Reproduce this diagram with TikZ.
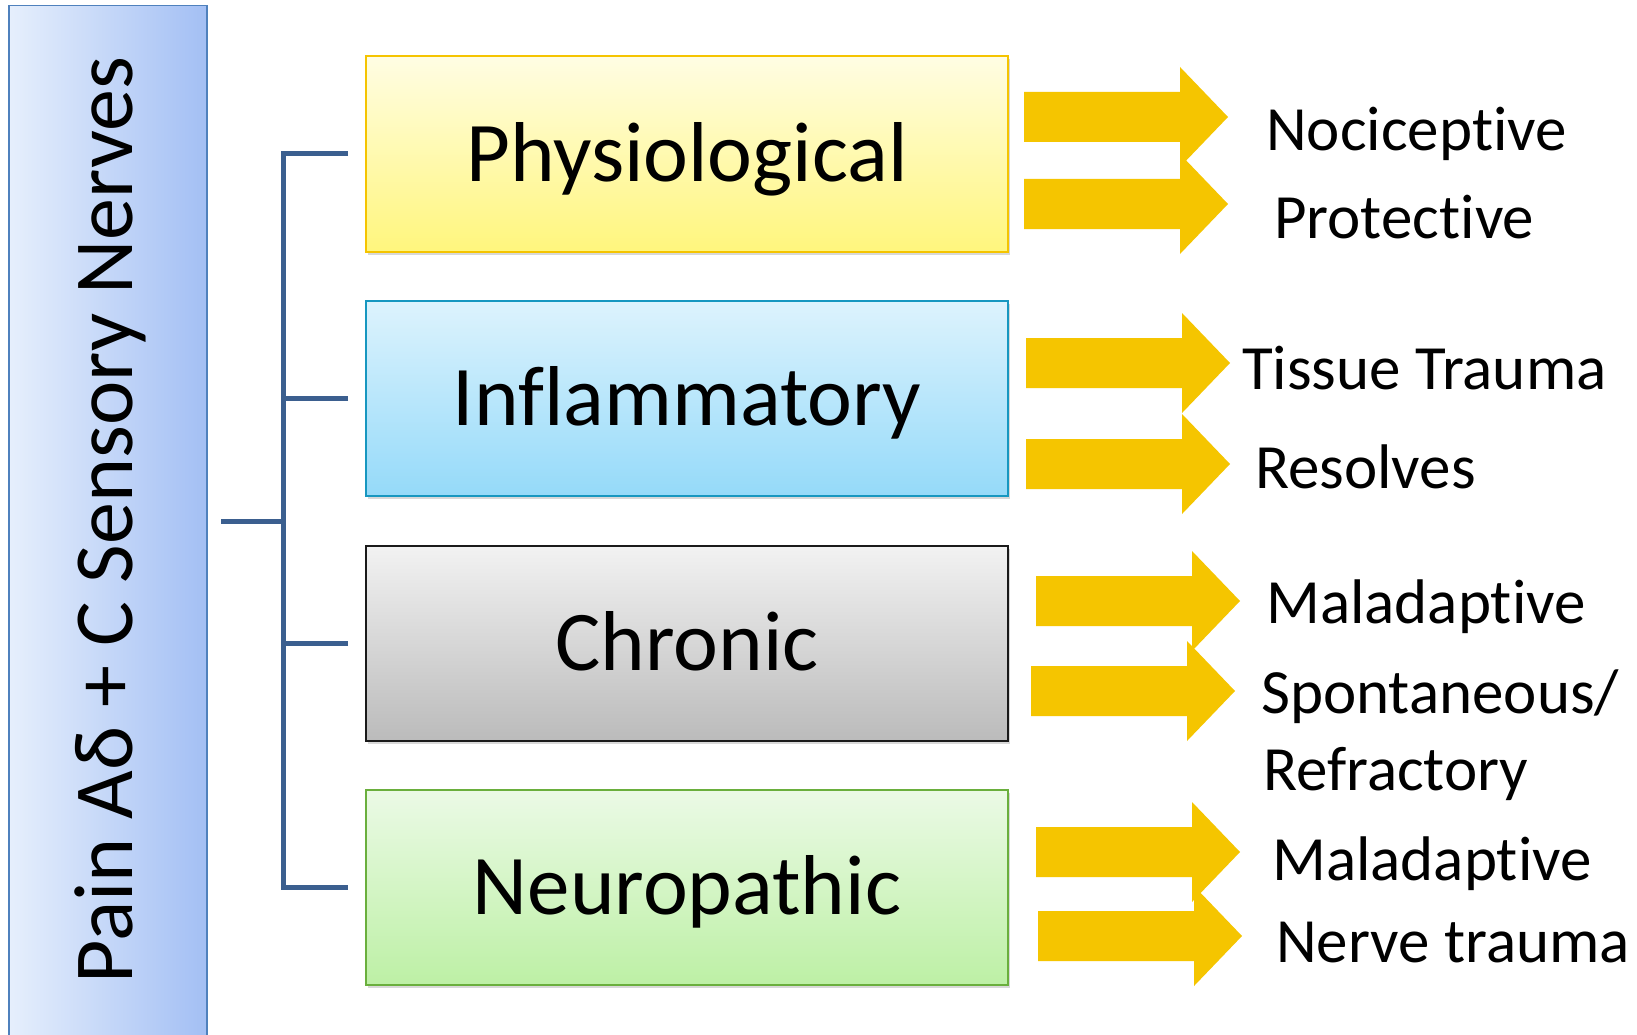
\documentclass[tikz,border=0pt]{standalone}
\usepackage{fontspec}
\setmainfont{Carlito}[RawFeature={-liga;-clig;-calt;-dlig;-rlig}]
\usetikzlibrary{shadows}
\definecolor{arrowgold}{HTML}{F5C500}
\definecolor{bracketblue}{HTML}{3B5F8F}
\definecolor{barborder}{HTML}{4F81BD}
\begin{document}
\begin{tikzpicture}[x=1pt,y=-1pt,
  catbox/.style={rectangle, minimum width=642pt, minimum height=195pt, line width=2pt,
    font=\fontsize{85}{100}\selectfont, text height=55pt, text depth=0pt,
    drop shadow={opacity=0.3, shadow xshift=2pt, shadow yshift=-3pt}},
  lbl/.style={anchor=base west, font=\fontsize{63}{75}\selectfont, inner sep=0pt},
  bracket/.style={draw=bracketblue, line width=5pt},
  blockarrow/.pic={\fill[arrowgold] (0,-25) -- (156,-25) -- (156,-50) -- (204,0) -- (156,50) -- (156,25) -- (0,25) -- cycle;}
]
\useasboundingbox (0,0) rectangle (1637,1035);
\fill[white] (0,0) rectangle (1637,1035);

% left bar
\node[rectangle, anchor=north west, minimum width=198pt, minimum height=1060pt,
  draw=barborder, line width=1.5pt, left color={rgb,255:red,230;green,239;blue,252},
  right color={rgb,255:red,163;green,191;blue,244}] (bar) at (8,5) {};
\node[anchor=base, rotate=90, font=\fontsize{84}{100}\selectfont, inner sep=0pt] (bartext) at (132,520) {Pain Aδ + C Sensory Nerves};

% category boxes
\node[catbox, draw={rgb,255:red,245;green,196;blue,0}, top color={rgb,255:red,255;green,253;blue,227}, bottom color={rgb,255:red,255;green,246;blue,125}] (phys) at (687,154) {Physiological};
\node[catbox, draw={rgb,255:red,23;green,151;blue,192}, top color={rgb,255:red,221;green,243;blue,253}, bottom color={rgb,255:red,149;green,218;blue,249}] (infl) at (687,398) {Inflammatory};
\node[catbox, draw={rgb,255:red,26;green,26;blue,26}, top color={rgb,255:red,242;green,242;blue,242}, bottom color={rgb,255:red,187;green,187;blue,187}] (chron) at (687,643) {Chronic};
\node[catbox, draw={rgb,255:red,106;green,175;blue,61}, top color={rgb,255:red,235;green,250;blue,230}, bottom color={rgb,255:red,189;green,240;blue,165}] (neuro) at (687,887) {Neuropathic};

% bracket
\coordinate (root) at (221,521);
\coordinate (spine) at (284,521);
\draw[bracket] ([xshift=-17pt]phys.west) -| ([xshift=-82pt]neuro.west) -- ([xshift=-17pt]neuro.west);
\draw[bracket] ([xshift=-17pt]infl.west) -- ([xshift=-82pt]infl.west);
\draw[bracket] ([xshift=-17pt]chron.west) -- ([xshift=-82pt]chron.west);
\draw[bracket] (root) -- (spine);

% block arrows
\pic (a1) at (1024,117) {blockarrow};
\pic (a2) at (1024,204) {blockarrow};
\pic (a3) at (1026,363) {blockarrow};
\pic (a4) at (1026,464) {blockarrow};
\pic (a5) at (1036,601) {blockarrow};
\pic (a6) at (1031,691) {blockarrow};
\pic (a7) at (1036,852) {blockarrow};
\pic (a8) at (1038,936) {blockarrow};

% labels
\node[lbl] (l1) at (1266,151) {Nociceptive};
\node[lbl] (l2) at (1274,238) {Protective};
\node[lbl] (l3) at (1242,389) {Tissue Trauma};
\node[lbl] (l4) at (1255,488) {Resolves};
\node[lbl] (l5) at (1266,623) {Maladaptive};
\node[lbl] (l6) at (1261,713) {Spontaneous/};
\node[lbl] (l7) at (1263,790) {Refractory};
\node[lbl] (l8) at (1272,880) {Maladaptive};
\node[lbl] (l9) at (1276,962) {Nerve trauma};
\end{tikzpicture}
\end{document}
